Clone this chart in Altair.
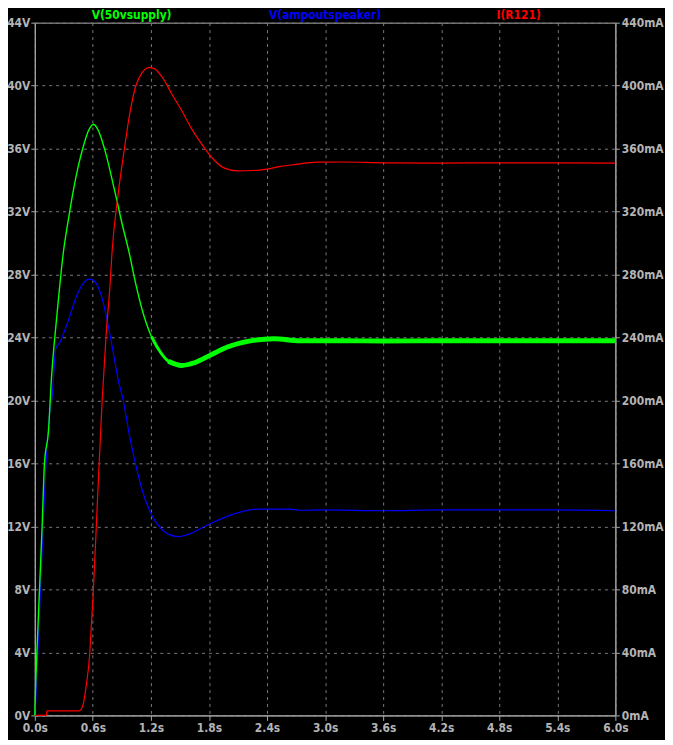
import altair as alt
import pandas as pd

# ---- data ----
green_t = [0.0, 0.004, 0.021, 0.048, 0.075, 0.10, 0.142, 0.17, 0.23, 0.295, 0.35, 0.40, 0.45, 0.50, 0.55,
           0.608, 0.66, 0.72, 0.83, 0.907, 0.975, 1.04, 1.11, 1.205, 1.28, 1.38, 1.518, 1.65, 1.82, 1.99,
           2.2, 2.47, 2.74, 3.2, 3.6, 4.2, 4.8, 5.4, 6.0]
green_v = [0.0, 0.94, 3.9, 7.9, 11.9, 16.0, 18.1, 21.2, 25.5, 29.4, 31.6, 33.4, 34.9, 36.1, 37.07,
           37.55, 37.1, 36.0, 33.2, 31.1, 29.4, 27.5, 25.75, 24.07, 23.24, 22.5, 22.23, 22.4, 22.9, 23.4,
           23.76, 23.93, 23.8, 23.8, 23.78, 23.8, 23.8, 23.8, 23.8]

blue_t = [0.0, 0.004, 0.03, 0.058, 0.085, 0.115, 0.15, 0.18, 0.217, 0.26, 0.33, 0.45, 0.55, 0.584, 0.686,
          0.79, 0.866, 0.914, 0.975, 1.042, 1.11, 1.205, 1.297, 1.382, 1.484, 1.586, 1.796, 2.06, 2.3,
          2.64, 2.74, 3.0, 3.6, 4.2, 4.8, 5.4, 6.0]
blue_v = [0.0, 0.3, 3.9, 7.9, 11.9, 16.0, 19.0, 20.3, 23.3, 23.7, 24.8, 26.9, 27.7, 27.7, 26.7,
          23.76, 21.2, 20.0, 17.9, 15.95, 14.3, 12.76, 11.92, 11.5, 11.36, 11.5, 12.13, 12.8, 13.1,
          13.1, 13.03, 13.05, 13.0, 13.05, 13.05, 13.05, 13.0]

red_t = [0.0, 0.12, 0.125, 0.46, 0.5, 0.533, 0.567, 0.584, 0.601, 0.65, 0.696, 0.737, 0.777, 0.798,
         0.863, 0.924, 0.975, 1.04, 1.11, 1.18, 1.23, 1.31, 1.416, 1.518, 1.62, 1.72, 1.82, 1.96, 2.095,
         2.26, 2.4, 2.54, 2.7, 2.91, 3.2, 3.6, 4.2, 4.8, 5.4, 6.0]
red_i = [0.0, 0.0, 2.9, 2.9, 7.0, 19.7, 38.5, 57.0, 74.0, 140.0, 200.0, 241.8, 273.0, 294.0,
         331.9, 359.0, 380.0, 399.0, 408.4, 411.5, 411.0, 406.0, 394.7, 384.2, 372.7, 363.3, 355.0, 347.6, 345.9,
         346.1, 347.0, 348.7, 350.0, 351.4, 351.5, 351.0, 350.8, 351.0, 351.0, 350.8]

labels = ["V(50vsupply)", "V(ampoutspeaker)", "I(R121)"]
colors = ["#00ff00", "#0000ff", "#ff0000"]

x_ticks = [round(0.6 * k, 1) for k in range(11)]
v_ticks = list(range(0, 45, 4))
i_ticks = list(range(0, 441, 40))

W, H = 585, 698
FONT = "Liberation Sans Narrow, DejaVu Sans Condensed, Liberation Sans, sans-serif"
FS = 12
LBL = "#b4b4b4"
AX = "#a8a8a8"
GRID = "#7a7a7a"

green_df = pd.DataFrame({"t": green_t, "v": green_v})
blue_df = pd.DataFrame({"t": blue_t, "v": blue_v})
red_df = pd.DataFrame({"t": red_t, "i": red_i})

xenc = alt.X("t:Q", scale=alt.Scale(domain=[0, 6], nice=False, zero=False),
             axis=alt.Axis(values=x_ticks, labelExpr="format(datum.value, '.1f') + 's'",
                           title=None, grid=True, gridDash=[3, 4], gridColor=GRID,
                           tickSize=5, tickColor=AX, domainColor=AX, labelColor=LBL,
                           labelFont=FONT, labelFontSize=FS, labelFontWeight="bold",
                           labelPadding=2, labelFlush=False))

yv = alt.Y("v:Q", scale=alt.Scale(domain=[0, 44], nice=False),
           axis=alt.Axis(values=v_ticks, labelExpr="datum.value + 'V'", orient="left",
                         title=None, grid=True, gridDash=[3, 4], gridColor=GRID,
                         tickSize=4, tickColor=AX, domainColor=AX, labelColor=LBL,
                         labelFont=FONT, labelFontSize=FS, labelFontWeight="bold",
                         labelPadding=1, labelFlush=False))

yi = alt.Y("i:Q", scale=alt.Scale(domain=[0, 440], nice=False),
           axis=alt.Axis(values=i_ticks, labelExpr="datum.value + 'mA'", orient="right",
                         title=None, grid=False,
                         tickSize=4, tickColor=AX, domainColor=AX, labelColor=LBL,
                         labelFont=FONT, labelFontSize=FS, labelFontWeight="bold",
                         labelPadding=2, labelFlush=False))

blue_line = alt.Chart(blue_df).mark_line(color=colors[1], strokeWidth=1.2, interpolate="monotone").encode(
    x=xenc, y=yv, order="t:Q")
green_thin = alt.Chart(green_df).mark_line(color=colors[0], strokeWidth=1.4, interpolate="monotone").encode(
    x=xenc, y=yv, order="t:Q")
green_mid = alt.Chart(green_df).transform_filter("datum.t >= 1.2").mark_line(
    color=colors[0], strokeWidth=3, interpolate="monotone").encode(x=xenc, y=yv, order="t:Q")
green_thick = alt.Chart(green_df).transform_filter("datum.t >= 1.38").mark_line(
    color=colors[0], strokeWidth=5, interpolate="monotone").encode(x=xenc, y=yv, order="t:Q")

left = alt.layer(blue_line, green_thin, green_mid, green_thick)

red_line = alt.Chart(red_df).mark_line(color=colors[2], strokeWidth=1.2, interpolate="monotone").encode(
    x=xenc, y=yi, order="t:Q")

texts = []
for k, (lab, col) in enumerate(zip(labels, colors)):
    texts.append(
        alt.Chart(pd.DataFrame({"lab": [lab]})).mark_text(
            color=col, font=FONT, fontSize=FS, fontWeight="bold", baseline="middle", align="center"
        ).encode(text="lab:N", x=alt.value(W * (2 * k + 1) / 6), y=alt.value(-8))
    )

chart = alt.layer(left, red_line, *texts).resolve_scale(y="independent").properties(
    width=W, height=H, background="black",
    autosize=alt.AutoSizeParams(type="none"),
    padding={"left": 27, "top": 12, "right": 50, "bottom": 22},
).configure_view(stroke=AX, strokeWidth=1)

chart.save("out.html", embed_options={"renderer": "svg", "actions": False})
